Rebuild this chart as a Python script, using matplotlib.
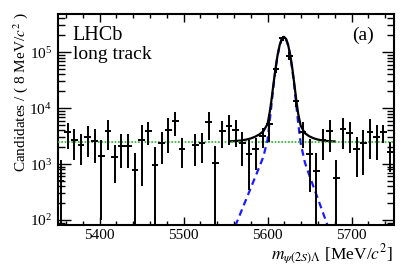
import numpy as np
import matplotlib
matplotlib.use("Agg")
import matplotlib.pyplot as plt
from matplotlib.ticker import LogLocator, MultipleLocator, NullFormatter

plt.rcParams["font.family"] = ["Liberation Serif", "DejaVu Serif"]
plt.rcParams["mathtext.fontset"] = "stix"

# histogram binning (8 MeV bins between 5350 and 5750)
bin_lo = 5350
bin_hi = 5750
bin_w = 8

# weighted candidates per bin (nan = not drawn)
counts = [500, 3680, 2680, 2200, 3050, 2610, 1390, 3930, 1320, 2120,
          2120, 780, 2700, 3930, 960, 2340, 4050, 5900, 1880, np.nan,
          2220, 2340, 5620, 1060, 3930, 4830, 4050, 2340, 1510, 1830,
          3160, 5180, 50700, 178000, 86600, 13300, 3730, 1540, 760, 2680,
          3880, 570, 4220, 3620, 1830, 2340, 3770, 3070, 3680, 1620]
errors = [700, 1790, 1490, 1250, 1700, 1560, 1290, 2180, 860, 1270,
          1270, 770, 2290, 1760, 1030, 1340, 2500, 2730, 1020, np.nan,
          1280, 1280, 2970, 1040, 2000, 2670, 2060, 1430, 1170, 1045,
          1200, 2700, 8000, 18000, 14000, 2800, 1800, 1220, 800, 1490,
          2220, 610, 2330, 2070, 1240, 1700, 2540, 1900, 1290, 900]

# fit components
bkg_level = 2500
sig_mass = [5556, 5560, 5565, 5570, 5575, 5580, 5585, 5590, 5595, 5600,
            5602.5, 5604.5, 5607, 5609.5, 5612, 5614.5, 5617, 5619.5,
            5622, 5624.5, 5627, 5629.5, 5632, 5634.5, 5636.5, 5639.5,
            5644.5, 5649.5, 5654.5, 5659.5, 5664.5, 5669.5, 5674.5, 5680]
sig_vals = [52, 70, 104, 160, 244, 373, 570, 870, 1350, 2700,
            5750, 10800, 24000, 48900, 87000, 132300, 170500, 185600,
            170400, 132200, 86800, 48700, 23700, 10450, 5400, 2330,
            1064, 646, 402, 251, 156, 97, 60, 35]

centers = np.arange(bin_lo + bin_w / 2, bin_hi, bin_w)
y = np.array(counts, dtype=float)
e = np.array(errors, dtype=float)
lower = np.minimum(e, y - 1)   # bars reaching zero run to the frame
sig_vals = np.array(sig_vals, dtype=float)

fig = plt.figure(figsize=(4.15, 2.68), dpi=100)
ax = fig.add_axes([0.1388, 0.1604, 0.8094, 0.7874])

ax.plot(sig_mass, sig_vals + bkg_level, color="black", lw=1.6, zorder=3)
ax.plot([bin_lo, bin_hi], [bkg_level, bkg_level], color="#22b822", lw=1.2,
        linestyle=(0, (1, 1)), zorder=4)
ax.plot(sig_mass, sig_vals, color="#1a1aff", lw=1.6,
        linestyle=(0, (3, 2)), zorder=2)
ax.errorbar(centers, y, yerr=[lower, e], xerr=bin_w / 2, fmt="none",
            ecolor="black", elinewidth=1.4, capsize=0, zorder=5)

ax.set_yscale("log")
ax.set_xlim(bin_lo, bin_hi)
ax.set_ylim(81.5, 4.8e5)

ax.xaxis.set_major_locator(MultipleLocator(100))
ax.xaxis.set_minor_locator(MultipleLocator(20))
ax.yaxis.set_major_locator(LogLocator(base=10, numticks=10))
ax.yaxis.set_minor_locator(LogLocator(base=10, subs=np.arange(2, 10), numticks=20))
ax.yaxis.set_minor_formatter(NullFormatter())

ax.tick_params(which="both", direction="in", top=True, right=True,
               labelsize=11, width=1.0)
ax.tick_params(axis="x", pad=3)
ax.tick_params(axis="y", pad=4)
ax.tick_params(which="major", axis="x", length=6)
ax.tick_params(which="minor", axis="x", length=3)
ax.tick_params(which="major", axis="y", length=9)
ax.tick_params(which="minor", axis="y", length=5)
for sp in ax.spines.values():
    sp.set_linewidth(1.5)

fig.text(0.05, 0.955, "Candidates / ( 8 MeV/$c^2$ )", rotation=90,
         ha="center", va="top", fontsize=11)
fig.text(0.948, 0.032, r"$m_{\psi(2S)\mathit{\Lambda}}$ [MeV/$c^2$]",
         ha="right", va="baseline", fontsize=12.5)
fig.text(0.175, 1 - 39.5 / 268, "LHCb", ha="left", va="baseline", fontsize=14.5)
fig.text(0.175, 1 - 59 / 268, "long track", ha="left", va="baseline", fontsize=14)
fig.text(0.849, 1 - 40 / 268, "(a)", ha="left", va="baseline", fontsize=14)

fig.savefig("out.png", dpi=100)
